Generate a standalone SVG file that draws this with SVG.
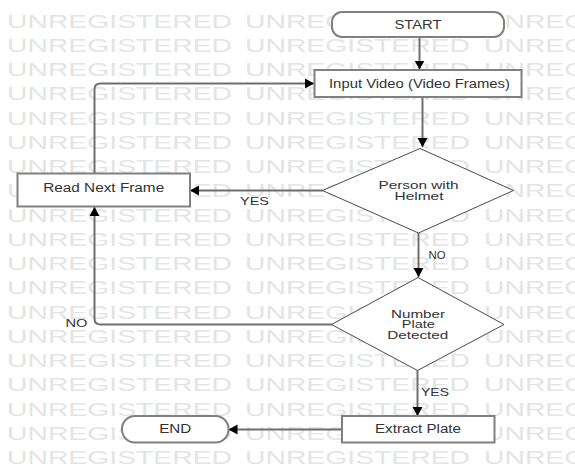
<svg xmlns="http://www.w3.org/2000/svg" xmlns:xlink="http://www.w3.org/1999/xlink" width="575" height="470" viewBox="0 0 575 470">
<style>
.wm{font-family:"Liberation Sans",Arial,sans-serif;font-size:17.5px;fill:#e4e4e4}
.box{fill:#fff;stroke:#808080;stroke-width:2}
.dia{fill:#fff;stroke:#4a4a4a;stroke-width:1}
.t{font-family:"Liberation Sans",Arial,sans-serif;font-size:12.5px;fill:#333;text-anchor:middle}
.s{font-family:"Liberation Sans",Arial,sans-serif;font-size:11.5px;fill:#333;text-anchor:middle}
.c{fill:none;stroke:#6e6e6e;stroke-width:2}
</style>
<defs>
<marker id="ah" markerUnits="userSpaceOnUse" markerWidth="10" markerHeight="12" refX="9" refY="6" orient="auto">
<path d="M0,1 L9,6 L0,11 z" fill="#000"/>
</marker>
<g id="wm">
<text class="wm" x="7" y="0" textLength="225" lengthAdjust="spacingAndGlyphs">UNREGISTERED</text>
<text class="wm" x="245" y="0" textLength="225" lengthAdjust="spacingAndGlyphs">UNREGISTERED</text>
<text class="wm" x="484" y="0" textLength="225" lengthAdjust="spacingAndGlyphs">UNREGISTERED</text>
</g>
</defs>
<rect width="575" height="470" fill="#fff"/>
<g id="watermark">
<use xlink:href="#wm" y="27.5"/>
<use xlink:href="#wm" y="51.75"/>
<use xlink:href="#wm" y="76"/>
<use xlink:href="#wm" y="100.25"/>
<use xlink:href="#wm" y="124.5"/>
<use xlink:href="#wm" y="148.75"/>
<use xlink:href="#wm" y="173"/>
<use xlink:href="#wm" y="197.25"/>
<use xlink:href="#wm" y="221.5"/>
<use xlink:href="#wm" y="245.75"/>
<use xlink:href="#wm" y="270"/>
<use xlink:href="#wm" y="294.25"/>
<use xlink:href="#wm" y="318.5"/>
<use xlink:href="#wm" y="342.75"/>
<use xlink:href="#wm" y="367"/>
<use xlink:href="#wm" y="391.25"/>
<use xlink:href="#wm" y="415.5"/>
<use xlink:href="#wm" y="439.75"/>
<use xlink:href="#wm" y="464"/>
</g>
<g id="connectors">
<path class="c" d="M419.5,37 V69.5" marker-end="url(#ah)"/>
<path class="c" d="M422.5,97 V147" marker-end="url(#ah)"/>
<path class="c" d="M323,190.5 H190" marker-end="url(#ah)"/>
<path class="c" d="M418.5,233 V277" marker-end="url(#ah)"/>
<path class="c" d="M94.5,173.5 V89.5 Q94.5,83.5 100.5,83.5 H314" marker-end="url(#ah)"/>
<path class="c" d="M332,324.5 H100.5 Q94.5,324.5 94.5,318.5 V207" marker-end="url(#ah)"/>
<path class="c" d="M417.5,370.5 V416" marker-end="url(#ah)"/>
<path class="c" d="M342,429.5 H228.5" marker-end="url(#ah)"/>
<text class="s" x="254.5" y="205" textLength="29" lengthAdjust="spacingAndGlyphs">YES</text>
<text class="s" x="437" y="258.5" textLength="17" lengthAdjust="spacingAndGlyphs">NO</text>
<text class="s" x="76.5" y="327" textLength="22" lengthAdjust="spacingAndGlyphs">NO</text>
<text class="s" x="435" y="396" textLength="28" lengthAdjust="spacingAndGlyphs">YES</text>
</g>
<g id="start">
<rect class="box" x="332" y="12" width="172" height="25" rx="10"/>
<text class="t" x="418" y="28.5" textLength="47" lengthAdjust="spacingAndGlyphs">START</text>
</g>
<g id="input">
<rect class="box" x="314.5" y="70" width="207" height="27"/>
<text class="t" x="419.5" y="87.5" textLength="181" lengthAdjust="spacingAndGlyphs">Input Video (Video Frames)</text>
</g>
<g id="helmet">
<polygon class="dia" points="420,148.5 513.5,190.5 418.5,233 322.5,190.5"/>
<text class="s" x="418.5" y="189" textLength="80" lengthAdjust="spacingAndGlyphs">Person with</text>
<text class="s" x="419" y="199.5" textLength="49" lengthAdjust="spacingAndGlyphs">Helmet</text>
</g>
<g id="readnext">
<rect class="box" x="17.5" y="173.5" width="172.5" height="33"/>
<text class="t" x="103.7" y="192" textLength="121" lengthAdjust="spacingAndGlyphs">Read Next Frame</text>
</g>
<g id="plate">
<polygon class="dia" points="418,277.5 504,324.5 417.5,370.5 331.5,324.5"/>
<text class="s" x="418" y="317.5" textLength="54" lengthAdjust="spacingAndGlyphs">Number</text>
<text class="s" x="418.3" y="328" textLength="33" lengthAdjust="spacingAndGlyphs">Plate</text>
<text class="s" x="417.8" y="339" textLength="61" lengthAdjust="spacingAndGlyphs">Detected</text>
</g>
<g id="extract">
<rect class="box" x="342" y="416" width="152.5" height="26.5"/>
<text class="t" x="418" y="433" textLength="86" lengthAdjust="spacingAndGlyphs">Extract Plate</text>
</g>
<g id="end">
<rect class="box" x="122" y="416" width="106.5" height="26.5" rx="13"/>
<text class="t" x="175.2" y="433" textLength="32" lengthAdjust="spacingAndGlyphs">END</text>
</g>
</svg>
